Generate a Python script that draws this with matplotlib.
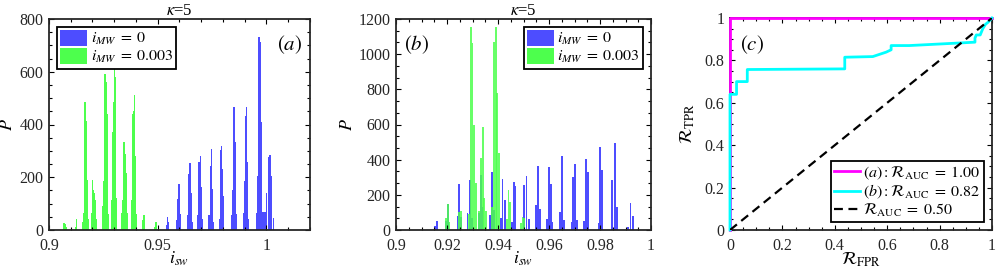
import matplotlib
matplotlib.use('Agg')
import matplotlib.pyplot as plt
from matplotlib.patches import Patch
from matplotlib.lines import Line2D
from matplotlib.ticker import MultipleLocator

plt.rcParams['font.family'] = ['Liberation Serif', 'DejaVu Serif']
plt.rcParams['mathtext.fontset'] = 'stix'

# ---- panel (a) histogram bins (centers, counts) ----
a_blue_x = [0.9540, 0.9545, 0.9550,
            0.9587, 0.9592, 0.9597, 0.9602,
            0.9638, 0.9643, 0.9648, 0.9653, 0.9658,
            0.9685, 0.9690, 0.9695, 0.9700, 0.9705,
            0.9736, 0.9741, 0.9746, 0.9751, 0.9756,
            0.9783, 0.9788, 0.9793, 0.9798, 0.9803,
            0.9841, 0.9846, 0.9851, 0.9856, 0.9861,
            0.9893, 0.9898, 0.9903, 0.9908, 0.9913, 0.9918,
            0.9956, 0.9961, 0.9966, 0.9971, 0.9976, 0.9981, 0.9986,
            0.9993, 1.0001, 1.0008, 1.0016, 1.0024, 1.0031]
a_blue_h = [20, 50, 30,
            38, 117, 176, 60,
            57, 212, 255, 141, 30,
            57, 259, 280, 164, 40,
            57, 243, 306, 155, 30,
            40, 303, 320, 230, 128,
            57, 153, 465, 334, 60,
            64, 185, 433, 465, 259, 40,
            64, 204, 733, 713, 408, 70, 70,
            70, 140, 278, 284, 204, 45]

a_green_x = [0.9069, 0.9074, 0.9079,
             0.9122, 0.9127,
             0.9156, 0.9161, 0.9166, 0.9171, 0.9176, 0.9181,
             0.9194, 0.9199, 0.9204, 0.9209, 0.9214, 0.9219,
             0.9248, 0.9253, 0.9258, 0.9263, 0.9268, 0.9273,
             0.9286, 0.9291, 0.9296, 0.9301, 0.9306, 0.9311,
             0.9335, 0.9340, 0.9345, 0.9350, 0.9355, 0.9360,
             0.9378, 0.9383, 0.9388, 0.9393, 0.9398, 0.9403,
             0.9432, 0.9437,
             0.9487, 0.9492]
a_green_h = [28, 23, 10,
             13, 41,
             30, 64, 484, 414, 191, 40,
             64, 191, 153, 140, 115, 40,
             90, 185, 592, 560, 440, 60,
             115, 370, 484, 640, 580, 120,
             64, 115, 334, 287, 217, 64,
             115, 440, 452, 512, 280, 60,
             38, 57,
             13, 32]

# ---- panel (b) histogram bins ----
b_blue_x = [0.9153, 0.9160, 0.9196, 0.9203,
            0.9241, 0.9247, 0.9254,
            0.9280, 0.9290, 0.9297,
            0.9324, 0.9332, 0.9339,
            0.9369, 0.9377, 0.9384,
            0.9412, 0.9418, 0.9426,
            0.9454, 0.9462, 0.9468,
            0.9503, 0.9512, 0.9522,
            0.9549, 0.9557, 0.9566,
            0.9591, 0.9599, 0.9608, 0.9614,
            0.9643, 0.9651, 0.9659,
            0.9689, 0.9695, 0.9703, 0.9711,
            0.9737, 0.9745, 0.9754,
            0.9794, 0.9800, 0.9807,
            0.9848, 0.9860, 0.9868,
            0.9905, 0.9911, 0.9920, 0.9928]
b_blue_h = [23, 53, 53, 148,
            80, 262, 72,
            99, 284, 66,
            99, 313, 133,
            85, 328, 114,
            66, 292, 171,
            47, 271, 250,
            256, 307, 61,
            142, 366, 119,
            61, 360, 260, 44,
            104, 421, 57,
            44, 300, 375, 57,
            53, 404, 332,
            38, 470, 340,
            284, 493, 129,
            10, 19, 155, 80]

b_green_x = [0.9196, 0.9203, 0.9210,
             0.9247, 0.9256,
             0.9286, 0.9293, 0.9300, 0.9307, 0.9314,
             0.9327, 0.9333, 0.9340, 0.9346, 0.9352,
             0.9378, 0.9385, 0.9391, 0.9397, 0.9403,
             0.9435, 0.9441, 0.9447,
             0.9490, 0.9496, 0.9502]
b_green_h = [70, 148, 47,
             104, 110,
             90, 1157, 1062, 597, 265,
             110, 410, 584, 180, 110,
             130, 1071, 1157, 777, 436,
             60, 228, 161,
             40, 76, 66]

# ---- panel (c) ROC curves ----
roc_a_fpr = [0, 0, 1]
roc_a_tpr = [0, 1, 1]
roc_b_fpr = [0, 0, 0.025, 0.025, 0.066, 0.066, 0.438, 0.438, 0.545, 0.596,
             0.615, 0.615, 0.684, 0.874, 0.935, 0.935, 0.94, 0.955, 0.965,
             0.975, 0.985, 1.0]
roc_b_tpr = [0, 0.64, 0.64, 0.70, 0.70, 0.757, 0.760, 0.815, 0.818, 0.839,
             0.85, 0.87, 0.87, 0.882, 0.886, 0.905, 0.92, 0.92, 0.95,
             0.97, 0.98, 1.0]
chance = [0, 1]

blue = (0.3, 0.3, 1.0)
green = (0.3, 1.0, 0.3)
dark = '#262626'

fig = plt.figure(figsize=(9.97, 2.71), dpi=100)
W, H = 997, 271


def add_ax(l, t, r, b):
    return fig.add_axes([l / W, 1 - b / H, (r - l) / W, (b - t) / H])


def style(ax):
    for s in ax.spines.values():
        s.set_linewidth(1.3)
        s.set_color(dark)
    ax.tick_params(which='both', direction='in', top=True, right=True,
                   colors='black', labelcolor=dark, labelsize=11.5, width=0.8)
    ax.tick_params(which='major', length=3.5)
    ax.tick_params(which='minor', length=2)
    ax.tick_params(axis='x', which='major', pad=6)
    ax.tick_params(axis='y', which='major', pad=4)


def legend_box(ax, handles, labels, loc, **kw):
    leg = ax.legend(handles, labels, loc=loc, fancybox=False, framealpha=1,
                    edgecolor='black', fontsize=11.5, borderpad=0.2,
                    labelspacing=0.05, handletextpad=0.2, borderaxespad=0.5, **kw)
    leg.get_frame().set_linewidth(1.3)
    return leg


hist_handles = [Patch(facecolor=blue, edgecolor='none'),
                Patch(facecolor=green, edgecolor='none')]
hist_labels = [r'$i_{MW}\;=\;0$', r'$i_{MW}\;=\;0.003$']

# (a)
ax = add_ax(49, 19, 310, 230)
ax.bar(a_blue_x, a_blue_h, width=0.0006, color=blue, linewidth=0)
ax.bar(a_green_x, a_green_h, width=0.0006, color=green, linewidth=0)
ax.set_xlim(0.9, 1.02)
ax.set_ylim(0, 800)
ax.xaxis.set_minor_locator(MultipleLocator(0.01))
ax.yaxis.set_major_locator(MultipleLocator(200))
ax.yaxis.set_minor_locator(MultipleLocator(50))
ax.set_xticks([0.9, 0.95, 1.0], ['0.9', '0.95', '1'])
style(ax)
ax.set_title(r'$\kappa$=5', fontsize=12, pad=3)
ax.set_xlabel(r'$i_{sw}$', fontsize=13)
ax.xaxis.set_label_coords(0.5, -0.095)
ax.set_ylabel(r'$P$', fontsize=13)
ax.yaxis.set_label_coords(-0.126, 0.5)
legend_box(ax, hist_handles, hist_labels, 'upper left', handlelength=1.7, handleheight=1.1)
ax.text(0.97, 0.93, r'$(a)$', transform=ax.transAxes, ha='right', va='top', fontsize=15)

# (b)
ax = add_ax(396, 19, 651, 230)
ax.bar(b_blue_x, b_blue_h, width=0.0007, color=blue, linewidth=0)
ax.bar(b_green_x, b_green_h, width=0.0007, color=green, linewidth=0, alpha=0.85)
ax.set_xlim(0.9, 1.0)
ax.set_ylim(0, 1200)
ax.xaxis.set_minor_locator(MultipleLocator(0.005))
ax.yaxis.set_major_locator(MultipleLocator(200))
ax.yaxis.set_minor_locator(MultipleLocator(200 / 3))
ax.set_xticks([0.9, 0.92, 0.94, 0.96, 0.98, 1.0], ['0.9', '0.92', '0.94', '0.96', '0.98', '1'])
style(ax)
ax.set_title(r'$\kappa$=5', fontsize=12, pad=3)
ax.set_xlabel(r'$i_{sw}$', fontsize=13)
ax.xaxis.set_label_coords(0.5, -0.095)
ax.set_ylabel(r'$P$', fontsize=13)
ax.yaxis.set_label_coords(-0.157, 0.5)
legend_box(ax, hist_handles, hist_labels, 'upper right', handlelength=1.7, handleheight=1.1)
ax.text(0.03, 0.93, r'$(b)$', transform=ax.transAxes, ha='left', va='top', fontsize=15)

# (c)
ax = add_ax(730, 18, 992, 230)
ax.plot(roc_a_fpr, roc_a_tpr, color='magenta', lw=2, clip_on=False, zorder=3)
ax.plot(roc_b_fpr, roc_b_tpr, color='cyan', lw=2, clip_on=False, zorder=4)
ax.plot(chance, chance, color='black', lw=1.6, ls=(0, (4, 2.5)), zorder=5)
ax.set_xlim(0, 1)
ax.set_ylim(0, 1)
ax.xaxis.set_minor_locator(MultipleLocator(0.05))
ax.yaxis.set_minor_locator(MultipleLocator(0.05))
ax.set_xticks([0, 0.2, 0.4, 0.6, 0.8, 1], ['0', '0.2', '0.4', '0.6', '0.8', '1'])
ax.set_yticks([0, 0.2, 0.4, 0.6, 0.8, 1], ['0', '0.2', '0.4', '0.6', '0.8', '1'])
style(ax)
ax.set_xlabel(r'$\mathcal{R}_{\mathrm{FPR}}$', fontsize=13)
ax.xaxis.set_label_coords(0.5, -0.095)
ax.set_ylabel(r'$\mathcal{R}_{\mathrm{TPR}}$', fontsize=13)
ax.yaxis.set_label_coords(-0.126, 0.5)
roc_handles = [Line2D([], [], color='magenta', lw=2),
               Line2D([], [], color='cyan', lw=2),
               Line2D([], [], color='black', lw=1.6, ls=(0, (4, 2.5)))]
roc_labels = [r'$(a):\mathcal{R}_{\mathrm{AUC}}\;=\;1.00$',
              r'$(b):\mathcal{R}_{\mathrm{AUC}}\;=\;0.82$',
              r'$\mathcal{R}_{\mathrm{AUC}}\;=\;0.50$']
legend_box(ax, roc_handles, roc_labels, 'lower right', handlelength=1.6)
ax.text(0.04, 0.93, r'$(c)$', transform=ax.transAxes, ha='left', va='top', fontsize=15)

fig.savefig('out.png', dpi=100)
